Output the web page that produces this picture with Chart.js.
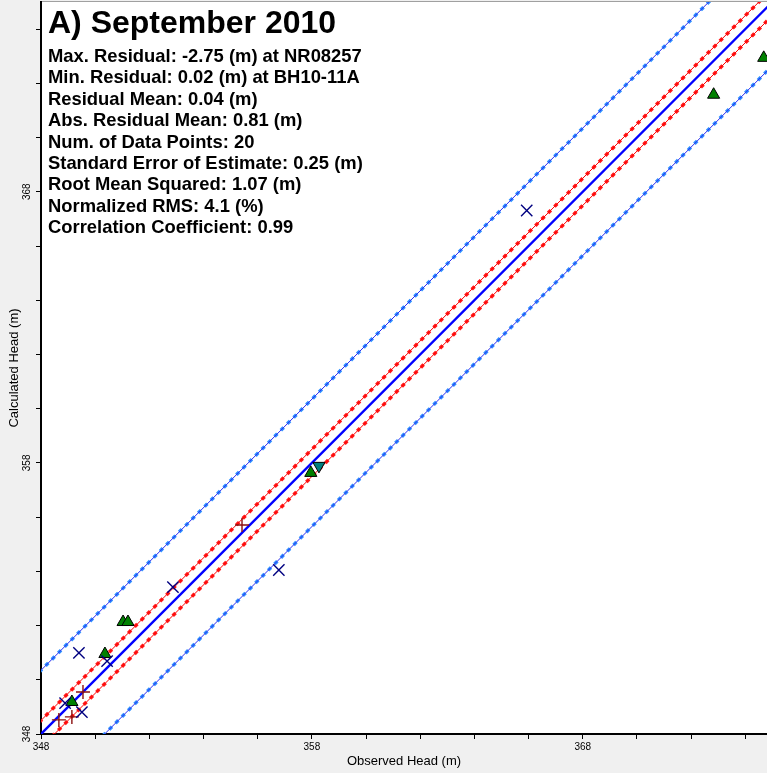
<!DOCTYPE html>
<html>
<head>
<meta charset="utf-8">
<title>September 2010 - Calculated vs Observed Head</title>
<script src="https://cdn.jsdelivr.net/npm/chart.js@4.4.1/dist/chart.umd.min.js"></script>
<style>
    html, body { margin: 0; padding: 0; background: #f0f0f0; }
    #wrap { width: 767px; height: 773px; }
</style>
</head>
<body>
<div id="wrap"><canvas id="headChart" width="767" height="773"></canvas></div>
<script>
// Axis range (m)
const axisMin = 348;
const xMax = 374.8;
const yMax = 375;
const tickStep = 2;
const labelStep = 10;

// Offsets of the confidence lines from the 1:1 line (m)
const innerBand = 0.5;
const outerBand = 2.35;

// Observed / calculated heads per marker group
const crossObserved = [365.93, 352.87, 356.78, 349.40, 350.44, 348.89, 349.51];
const crossCalculated = [367.31, 353.42, 354.05, 350.99, 350.69, 349.14, 348.81];

const triangleObserved = [372.83, 374.68, 357.96, 351.03, 351.21, 350.36, 349.14];
const triangleCalculated = [371.58, 372.94, 357.63, 352.13, 352.13, 350.95, 349.18];

const downTriangleObserved = [358.26];
const downTriangleCalculated = [357.89];

const plusObserved = [355.42, 349.55, 349.14, 348.66];
const plusCalculated = [355.71, 349.55, 348.63, 348.52];

// Statistics text
const chartTitle = 'A) September 2010';
const statLines = [
    'Max. Residual: -2.75 (m) at NR08257',
    'Min. Residual: 0.02 (m) at BH10-11A',
    'Residual Mean: 0.04 (m)',
    'Abs. Residual Mean: 0.81 (m)',
    'Num. of Data Points: 20',
    'Standard Error of Estimate: 0.25 (m)',
    'Root Mean Squared: 1.07 (m)',
    'Normalized RMS: 4.1 (%)',
    'Correlation Coefficient: 0.99'
];

const FONT = '"Liberation Sans", Arial, sans-serif';

// Build x/y points from two arrays
function toPoints(xs, ys) {
    return xs.map((x, i) => ({ x: x, y: ys[i] }));
}

// Line parallel to 1:1 shifted by offset
function offsetLine(offset) {
    return [
        { x: axisMin - 5, y: axisMin - 5 + offset },
        { x: yMax + 5, y: yMax + 5 + offset }
    ];
}

function lineSet(offset, color, width, dash) {
    return {
        type: 'line',
        data: offsetLine(offset),
        borderColor: color,
        borderWidth: width,
        borderDash: dash || [],
        pointRadius: 0,
        fill: false,
        order: 5
    };
}

function markerSet(xs, ys, style, fill, border, radius, width, rotation) {
    return {
        type: 'scatter',
        data: toPoints(xs, ys),
        pointStyle: style,
        pointRadius: radius,
        pointHoverRadius: radius,
        pointRotation: rotation || 0,
        backgroundColor: fill,
        borderColor: border,
        borderWidth: width,
        order: 1
    };
}

// Background: gray canvas, white plot area, top border
const backgroundPlugin = {
    id: 'background',
    beforeDraw(chart) {
        const ctx = chart.ctx;
        const a = chart.chartArea;
        ctx.save();
        ctx.fillStyle = '#f0f0f0';
        ctx.fillRect(0, 0, chart.width, chart.height);
        ctx.fillStyle = '#ffffff';
        ctx.fillRect(a.left, a.top, a.right - a.left, a.bottom - a.top);
        ctx.strokeStyle = '#a0a0a0';
        ctx.lineWidth = 1;
        ctx.beginPath();
        ctx.moveTo(a.left, a.top - 0.5);
        ctx.lineTo(a.right, a.top - 0.5);
        ctx.stroke();
        ctx.restore();
    }
};

// Title and statistics inside the plot
const statsPlugin = {
    id: 'stats',
    afterDatasetsDraw(chart) {
        const ctx = chart.ctx;
        const left = chart.chartArea.left + 7;
        ctx.save();
        ctx.fillStyle = '#000';
        ctx.textAlign = 'left';
        ctx.textBaseline = 'alphabetic';
        ctx.font = 'bold 32px ' + FONT;
        ctx.fillText(chartTitle, left, 33);
        ctx.font = 'bold 18.4px ' + FONT;
        statLines.forEach((line, i) => {
            ctx.fillText(line, left, 62 + i * 21.4);
        });
        ctx.restore();
    }
};

function tickLabel(value) {
    return (value - axisMin) % labelStep === 0 ? String(value) : '';
}

const ctx = document.getElementById('headChart').getContext('2d');

new Chart(ctx, {
    type: 'scatter',
    data: {
        datasets: [
            // outer confidence lines
            lineSet(outerBand, '#2b2bee', 1),
            lineSet(outerBand, '#2e8fff', 3.5, [4, 5]),
            lineSet(-outerBand, '#2b2bee', 1),
            lineSet(-outerBand, '#2e8fff', 3.5, [4, 5]),
            // inner confidence lines
            lineSet(innerBand, '#ff0000', 1),
            lineSet(innerBand, '#ff1a1a', 3.5, [4, 5]),
            lineSet(-innerBand, '#ff0000', 1),
            lineSet(-innerBand, '#ff1a1a', 3.5, [4, 5]),
            // 1:1 line
            lineSet(0, '#0000ff', 2.4),
            // observations
            markerSet(crossObserved, crossCalculated, 'crossRot', '#000080', '#000080', 8, 1.4),
            markerSet(plusObserved, plusCalculated, 'cross', '#8b1010', '#8b1010', 7, 1.4),
            markerSet(triangleObserved, triangleCalculated, 'triangle', '#008000', '#000000', 7, 1),
            markerSet(downTriangleObserved, downTriangleCalculated, 'triangle', '#008080', '#000000', 7, 1, 180)
        ]
    },
    options: {
        responsive: false,
        animation: false,
        layout: { autoPadding: false, padding: { top: 2, right: 0, bottom: 0, left: 0 } },
        scales: {
            x: {
                type: 'linear',
                min: axisMin,
                max: xMax,
                afterFit: function(scale) {
                    scale.height = 39;
                    scale.paddingLeft = 0;
                    scale.paddingRight = 0;
                },
                border: { display: true, color: '#000', width: 2 },
                grid: { drawOnChartArea: false, drawTicks: true, tickLength: 5, color: '#000' },
                ticks: {
                    stepSize: tickStep,
                    includeBounds: false,
                    autoSkip: false,
                    maxRotation: 0,
                    padding: 2,
                    color: '#000',
                    font: { family: FONT, size: 10 },
                    callback: tickLabel
                },
                title: {
                    display: true,
                    text: 'Observed Head (m)',
                    color: '#000',
                    font: { family: FONT, size: 13 },
                    padding: { top: 0, bottom: 4 }
                }
            },
            y: {
                type: 'linear',
                min: axisMin,
                max: yMax,
                afterFit: function(scale) {
                    scale.width = 41;
                    scale.paddingTop = 0;
                    scale.paddingBottom = 0;
                },
                border: { display: true, color: '#000', width: 2 },
                grid: { drawOnChartArea: false, drawTicks: true, tickLength: 5, color: '#000' },
                ticks: {
                    stepSize: tickStep,
                    includeBounds: false,
                    autoSkip: false,
                    minRotation: 90,
                    maxRotation: 90,
                    crossAlign: 'center',
                    padding: 0,
                    color: '#000',
                    font: { family: FONT, size: 10 },
                    callback: tickLabel
                },
                title: {
                    display: true,
                    text: 'Calculated Head (m)',
                    color: '#000',
                    font: { family: FONT, size: 13 },
                    padding: { top: 7, bottom: 0 }
                }
            }
        },
        plugins: {
            legend: { display: false },
            tooltip: { enabled: false }
        }
    },
    plugins: [backgroundPlugin, statsPlugin]
});
</script>
</body>
</html>
